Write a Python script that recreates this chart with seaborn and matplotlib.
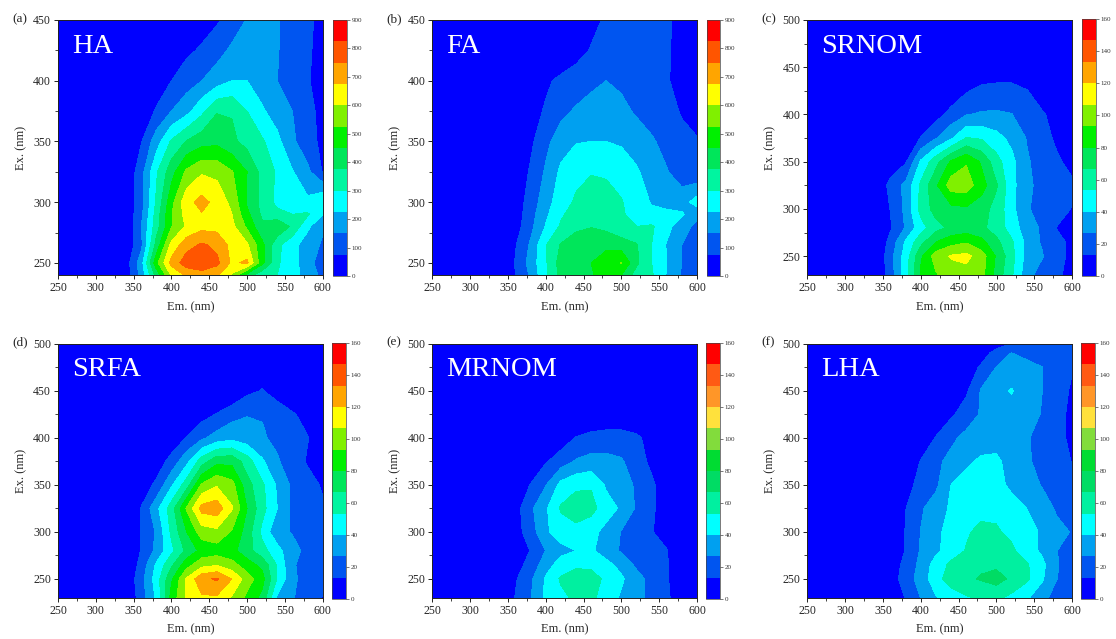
import numpy as np
import pandas as pd
import matplotlib
matplotlib.use('Agg')
import matplotlib.pyplot as plt
from matplotlib.ticker import MultipleLocator
import seaborn as sns

# Emission wavelengths shared by all maps
em = [250, 340, 360, 380, 400, 420, 440, 460, 480, 500, 520, 540, 560, 580, 600]

# Excitation rows
ex_top = [240, 250, 265, 280, 290, 300, 325, 350, 375, 400, 425, 450]
ex_low = [230, 250, 265, 280, 300, 325, 350, 375, 400, 425, 450, 500]
ex_lha = [230, 250, 265, 280, 300, 325, 350, 375, 400, 425, 450, 475, 490, 500]

ha = [
    [0, 30, 175, 400, 610, 690, 720, 690, 590, 420, 320, 300, 260, 190, 130],
    [0, 40, 190, 500, 700, 790, 800, 770, 660, 690, 470, 310, 255, 180, 110],
    [0, 15, 130, 400, 620, 720, 760, 730, 650, 610, 470, 320, 250, 190, 140],
    [0, 10, 150, 340, 520, 610, 650, 650, 620, 510, 390, 440, 360, 240, 160],
    [0, 15, 130, 330, 520, 630, 670, 650, 600, 470, 360, 320, 300, 310, 230],
    [0, 20, 120, 310, 500, 650, 700, 650, 580, 440, 350, 280, 235, 240, 300],
    [0, 10, 120, 290, 420, 540, 590, 580, 530, 450, 350, 290, 230, 170, 70],
    [0, 0, 70, 190, 310, 380, 420, 430, 390, 350, 310, 245, 165, 100, 60],
    [0, 0, 10, 85, 150, 200, 280, 370, 370, 300, 235, 190, 150, 100, 50],
    [0, 0, 0, 20, 75, 115, 150, 190, 225, 225, 190, 150, 125, 80, 50],
    [0, 0, 0, 0, 40, 60, 85, 120, 165, 190, 190, 155, 110, 85, 50],
    [0, 0, 0, 0, 0, 0, 40, 65, 105, 155, 180, 155, 110, 85, 60],
]
fa = [
    [0, 0, 75, 160, 290, 395, 430, 445, 470, 450, 340, 310, 220, 140, 120],
    [0, 0, 80, 180, 290, 410, 445, 450, 470, 530, 390, 300, 225, 150, 125],
    [0, 0, 70, 160, 295, 380, 430, 445, 440, 410, 380, 300, 220, 150, 120],
    [0, 0, 40, 130, 230, 310, 350, 370, 350, 320, 300, 310, 250, 180, 130],
    [0, 0, 35, 120, 210, 290, 330, 350, 340, 310, 270, 240, 260, 235, 170],
    [0, 0, 30, 110, 190, 270, 310, 340, 330, 305, 260, 220, 175, 190, 260],
    [0, 0, 20, 85, 160, 240, 280, 295, 290, 270, 235, 190, 155, 110, 85],
    [0, 0, 0, 60, 130, 190, 220, 225, 225, 215, 190, 160, 125, 90, 80],
    [0, 0, 0, 40, 85, 130, 160, 190, 205, 170, 140, 115, 95, 70, 50],
    [0, 0, 0, 0, 60, 95, 105, 125, 150, 135, 115, 105, 80, 55, 40],
    [0, 0, 0, 0, 0, 0, 50, 80, 100, 115, 115, 105, 85, 45, 30],
    [0, 0, 0, 0, 0, 0, 0, 55, 85, 105, 110, 105, 85, 55, 30],
]
srnom = [
    [0, 0, 20, 48, 82, 92, 100, 102, 98, 75, 55, 32, 20, 15, 10],
    [0, 0, 22, 46, 78, 100, 108, 110, 100, 78, 58, 35, 28, 15, 12],
    [0, 0, 18, 42, 62, 80, 88, 92, 84, 70, 55, 36, 25, 15, 12],
    [0, 0, 12, 28, 48, 62, 70, 72, 70, 60, 48, 32, 25, 13, 8],
    [0, 0, 14, 30, 58, 72, 76, 78, 72, 62, 44, 28, 22, 16, 13],
    [0, 0, 18, 30, 56, 78, 100, 100, 86, 68, 44, 30, 22, 18, 15],
    [0, 0, 4, 12, 42, 62, 82, 92, 78, 58, 44, 28, 22, 15, 10],
    [0, 0, 0, 2, 14, 26, 38, 54, 52, 45, 36, 26, 18, 11, 5],
    [0, 0, 0, 0, 2, 8, 18, 26, 28, 28, 27, 20, 15, 8, 3],
    [0, 0, 0, 0, 0, 0, 4, 12, 18, 20, 20, 14, 6, 0, 0],
    [0] * 15,
    [0] * 15,
]
srfa = [
    [0, 0, 20, 42, 85, 108, 118, 118, 105, 90, 76, 38, 28, 18, 13],
    [0, 2, 22, 46, 78, 108, 130, 135, 120, 100, 85, 52, 30, 20, 15],
    [0, 0, 18, 42, 64, 88, 102, 105, 98, 86, 76, 52, 28, 22, 14],
    [0, 0, 14, 30, 50, 70, 84, 87, 84, 72, 58, 45, 30, 24, 14],
    [0, 0, 14, 28, 56, 80, 100, 103, 92, 74, 50, 30, 26, 24, 15],
    [0, 0, 14, 36, 60, 95, 125, 128, 108, 80, 58, 40, 24, 20, 15],
    [0, 0, 6, 16, 38, 60, 95, 105, 98, 72, 56, 38, 24, 18, 12],
    [0, 0, 0, 6, 18, 36, 60, 76, 76, 60, 42, 28, 20, 12, 5],
    [0, 0, 0, 0, 4, 14, 24, 32, 36, 32, 28, 24, 18, 14, 6],
    [0, 0, 0, 0, 0, 0, 8, 14, 22, 26, 26, 20, 15, 8, 0],
    [0, 0, 0, 0, 0, 0, 0, 0, 0, 10, 14, 8, 0, 0, 0],
    [0] * 15,
]
mrnom = [
    [0, 0, 14, 26, 42, 50, 56, 56, 48, 38, 32, 22, 16, 4, 0],
    [0, 0, 12, 24, 42, 55, 62, 60, 50, 42, 32, 22, 15, 2, 0],
    [0, 0, 8, 18, 34, 46, 50, 50, 44, 36, 24, 20, 15, 0, 0],
    [0, 0, 4, 14, 27, 36, 40, 42, 34, 25, 20, 17, 14, 0, 0],
    [0, 0, 8, 20, 38, 46, 48, 44, 36, 26, 20, 14, 8, 0, 0],
    [0, 0, 8, 24, 38, 55, 62, 58, 46, 38, 25, 16, 5, 0, 0],
    [0, 0, 2, 14, 26, 44, 50, 52, 38, 32, 25, 16, 5, 0, 0],
    [0, 0, 0, 2, 12, 20, 28, 31, 30, 28, 20, 10, 0, 0, 0],
    [0, 0, 0, 0, 0, 6, 14, 18, 20, 20, 16, 8, 0, 0, 0],
    [0] * 15,
    [0] * 15,
    [0] * 15,
]
lha = [
    [0, 0, 4, 14, 27, 39, 46, 52, 55, 56, 50, 42, 32, 20, 15],
    [0, 0, 6, 20, 32, 48, 60, 64, 68, 72, 64, 56, 42, 27, 16],
    [0, 0, 4, 18, 30, 46, 56, 60, 64, 64, 62, 55, 44, 28, 18],
    [0, 0, 2, 14, 28, 37, 47, 54, 58, 60, 56, 46, 38, 27, 18],
    [0, 0, 2, 14, 27, 36, 46, 52, 56, 55, 50, 46, 38, 30, 26],
    [0, 0, 0, 13, 25, 33, 42, 47, 50, 50, 48, 40, 33, 25, 14],
    [0, 0, 0, 8, 18, 24, 40, 44, 46, 46, 36, 32, 26, 18, 14],
    [0, 0, 0, 2, 14, 24, 30, 38, 42, 42, 36, 28, 24, 18, 13],
    [0, 0, 0, 0, 4, 14, 24, 30, 34, 36, 34, 28, 22, 18, 10],
    [0, 0, 0, 0, 0, 4, 11, 20, 28, 34, 34, 32, 26, 18, 10],
    [0, 0, 0, 0, 0, 0, 2, 11, 28, 36, 41, 34, 27, 18, 12],
    [0, 0, 0, 0, 0, 0, 0, 3, 16, 27, 32, 32, 27, 20, 14],
    [0, 0, 0, 0, 0, 0, 0, 0, 5, 20, 27, 22, 20, 20, 20],
    [0, 0, 0, 0, 0, 0, 0, 0, 0, 5, 14, 18, 20, 20, 20],
]

sns.set_theme(style='ticks')
plt.rcParams['font.family'] = ['Liberation Serif', 'DejaVu Serif']

W, H = 1116, 639
fig = plt.figure(figsize=(W / 100, H / 100), dpi=100)

# Band colours of the two colour bars
strong = sns.color_palette(['#0000FF', '#0055F0', '#00A0F0', '#00FFFF', '#00F5A0', '#00E65A',
                            '#00F000', '#80F000', '#FFFF00', '#FFA500', '#FF5500', '#FF0000'])
muted = sns.color_palette(['#0000FF', '#0055F0', '#00A0F0', '#00FFFF', '#00F0A0', '#00DC64',
                           '#00DC32', '#82DC3C', '#FFE13C', '#FF9628', '#FF5A14', '#FF0000'])


def px_axes(x0, x1, y0, y1):
    # axes from pixel box, y counted from the top
    return fig.add_axes([x0 / W, 1 - y1 / H, (x1 - x0) / W, (y1 - y0) / H])


def draw_panel(values, ex, name, tag, box, cbox, ylim, zmax, ticks, colors):
    df = pd.DataFrame(values, index=ex, columns=em)
    ax = px_axes(*box)
    levels = np.linspace(0, zmax, 13)
    cf = ax.contourf(df.columns, df.index, df.values, levels=levels, colors=colors)
    ax.set_xlim(250, 600)
    ax.set_ylim(*ylim)
    ax.xaxis.set_major_locator(MultipleLocator(50))
    ax.xaxis.set_minor_locator(MultipleLocator(25))
    ax.yaxis.set_major_locator(MultipleLocator(50))
    ax.yaxis.set_minor_locator(MultipleLocator(25))
    ax.tick_params(which='major', length=3, width=0.7, labelsize=8.5, pad=2, color='#222222')
    ax.tick_params(which='minor', length=2, width=0.6, color='#222222')
    ax.set_xlabel('Em. (nm)', fontsize=9, labelpad=5)
    ax.set_ylabel('Ex. (nm)', fontsize=9, labelpad=4.5)
    for s in ax.spines.values():
        s.set_linewidth(0.7)
        s.set_color('#222222')
    ax.text(0.052, 0.897, name, transform=ax.transAxes, color='white', fontsize=20.5, va='center')
    fig.text((box[0] - 46) / W, 1 - (box[2] - 1) / H, tag, fontsize=9.5, va='center')

    cax = px_axes(*cbox)
    cb = fig.colorbar(cf, cax=cax, ticks=ticks)
    cb.ax.tick_params(length=2.5, width=0.5, labelsize=5, pad=1, color='#444444', labelcolor='#333333')
    cb.outline.set_linewidth(0.5)
    cb.outline.set_edgecolor('#444444')


ticks_a = [0, 100, 200, 300, 400, 500, 600, 700, 800, 900]
ticks_c = [0, 20, 40, 60, 80, 100, 120, 140, 160]

draw_panel(ha, ex_top, 'HA', '(a)', (58, 322.7, 20, 275), (333, 347, 20, 276), (240, 450), 900, ticks_a, strong)
draw_panel(fa, ex_top, 'FA', '(b)', (432.3, 697, 20, 275), (706.7, 720, 20, 276), (240, 450), 900, ticks_a, strong)
draw_panel(srnom, ex_low, 'SRNOM', '(c)', (807.3, 1072.3, 20, 275), (1082.3, 1096, 19, 276), (230, 500), 160, ticks_c, strong)
draw_panel(srfa, ex_low, 'SRFA', '(d)', (58, 322.7, 343.7, 597.7), (332, 346, 343, 599), (230, 500), 160, ticks_c, strong)
draw_panel(mrnom, ex_low, 'MRNOM', '(e)', (432.3, 697, 343.7, 597.7), (706, 720, 343, 599), (230, 500), 160, ticks_c, muted)
draw_panel(lha, ex_lha, 'LHA', '(f)', (807.3, 1072, 343.7, 597.7), (1081, 1095, 343, 599), (230, 500), 160, ticks_c, muted)

fig.savefig('out.png', dpi=100)
